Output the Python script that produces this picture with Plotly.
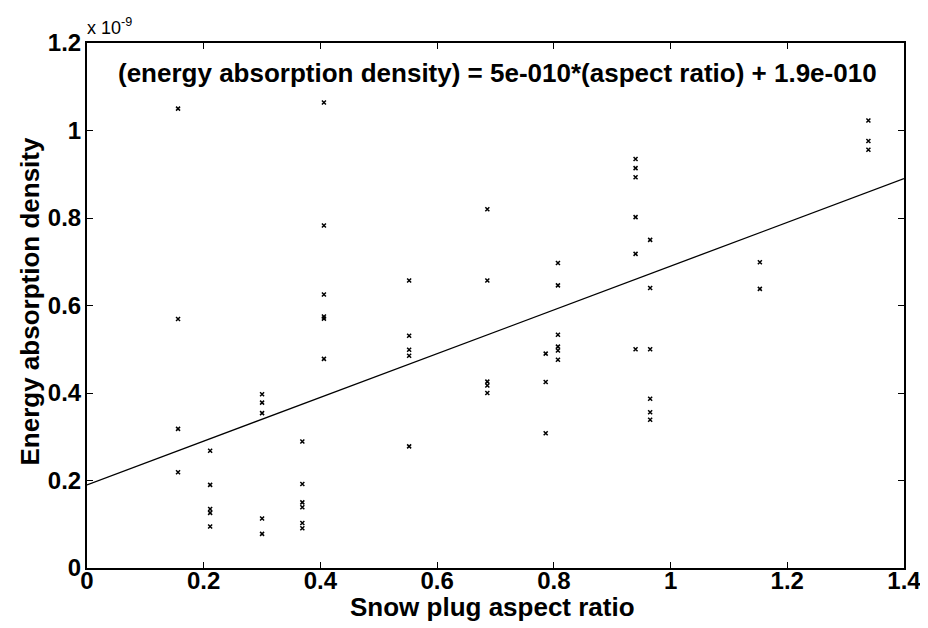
import plotly.graph_objects as go

# Snow plug aspect ratio (x) and energy absorption density (units of 1e-9)
aspect_ratio = [
    0.156, 0.156, 0.156, 0.156,
    0.211, 0.211, 0.211, 0.211, 0.211,
    0.300, 0.300, 0.300, 0.300, 0.300,
    0.369, 0.369, 0.369, 0.369, 0.369, 0.369,
    0.406, 0.406, 0.406, 0.406, 0.406, 0.406,
    0.552, 0.552, 0.552, 0.552, 0.552,
    0.686, 0.686, 0.686, 0.686, 0.686,
    0.786, 0.786, 0.786,
    0.807, 0.807, 0.807, 0.807, 0.807, 0.807,
    0.940, 0.940, 0.940, 0.940, 0.940, 0.940,
    0.965, 0.965, 0.965, 0.965, 0.965, 0.965,
    1.153, 1.153,
    1.339, 1.339, 1.339,
]
energy_density_e9 = [
    1.050, 0.569, 0.318, 0.219,
    0.268, 0.190, 0.135, 0.126, 0.095,
    0.397, 0.378, 0.354, 0.113, 0.078,
    0.289, 0.192, 0.150, 0.139, 0.103, 0.091,
    1.064, 0.783, 0.625, 0.575, 0.570, 0.478,
    0.657, 0.531, 0.499, 0.485, 0.278,
    0.820, 0.657, 0.426, 0.417, 0.400,
    0.490, 0.425, 0.308,
    0.697, 0.646, 0.533, 0.506, 0.497, 0.476,
    0.935, 0.914, 0.893, 0.802, 0.718, 0.500,
    0.750, 0.640, 0.500, 0.387, 0.356, 0.339,
    0.699, 0.638,
    1.023, 0.976, 0.956,
]

fit_slope = 5e-10
fit_intercept = 1.9e-10
x_range = [0, 1.4]
y_range = [0, 1.2]
x_ticks = [0, 0.2, 0.4, 0.6, 0.8, 1, 1.2, 1.4]
y_ticks = [0, 0.2, 0.4, 0.6, 0.8, 1, 1.2]
y_tick_labels = ["0", "0.2", "0.4", "0.6", "0.8", "1", "1.2"]
equation_text = "(energy absorption density) = 5e-010*(aspect ratio) + 1.9e-010"
x_title = "Snow plug aspect ratio"
y_title = "Energy absorption density"

fit_x = x_range
fit_y = [(fit_slope * v + fit_intercept) / 1e-9 for v in fit_x]

FONT = "Liberation Sans, Arial, sans-serif"

fig = go.Figure()
fig.add_trace(go.Scatter(
    x=fit_x, y=fit_y, mode="lines",
    line=dict(color="black", width=1.3), showlegend=False, hoverinfo="skip"))
fig.add_trace(go.Scatter(
    x=aspect_ratio, y=energy_density_e9, mode="markers",
    marker=dict(symbol="x-thin", size=4, color="black",
                line=dict(color="black", width=1.5)),
    showlegend=False))

axis_common = dict(
    showgrid=False, zeroline=False, showline=True, linecolor="black",
    linewidth=2, mirror="ticks", ticks="inside", ticklen=6, tickwidth=1,
    tickcolor="black", automargin=False,
    tickfont=dict(family=FONT, size=24, color="black", weight="bold"),
)

fig.update_xaxes(range=x_range, tickvals=x_ticks, ticktext=[f"{t:g}" for t in x_ticks],
                 ticklabelstandoff=-10, **axis_common)
fig.update_yaxes(range=y_range, tickvals=y_ticks, ticktext=y_tick_labels,
                 ticklabelstandoff=-1, **axis_common)

fig.add_annotation(x=0.5, y=1.131, xref="paper", yref="y", text=equation_text,
                   showarrow=False, xanchor="center", yanchor="middle", xshift=2,
                   font=dict(family=FONT, size=26, color="black", weight="bold"))
fig.add_annotation(x=0, y=1, xref="paper", yref="paper", text="x 10<sup>-9</sup>",
                   showarrow=False, xanchor="left", yanchor="bottom", xshift=-2, yshift=3,
                   font=dict(family=FONT, size=18, color="black"))
fig.add_annotation(x=0.5, y=0, xref="paper", yref="paper", text=x_title,
                   showarrow=False, xanchor="center", yanchor="middle", yshift=-39, xshift=-3,
                   font=dict(family=FONT, size=26, color="black", weight="bold"))
fig.add_annotation(x=0, y=0.5, xref="paper", yref="paper", text=y_title, textangle=-90,
                   showarrow=False, xanchor="center", yanchor="middle", xshift=-58, yshift=4,
                   font=dict(family=FONT, size=26, color="black", weight="bold"))

fig.update_layout(
    width=928, height=628,
    margin=dict(l=79, r=32, t=35, b=68, autoexpand=False),
    plot_bgcolor="white", paper_bgcolor="white",
)

fig.write_html("out.html")
